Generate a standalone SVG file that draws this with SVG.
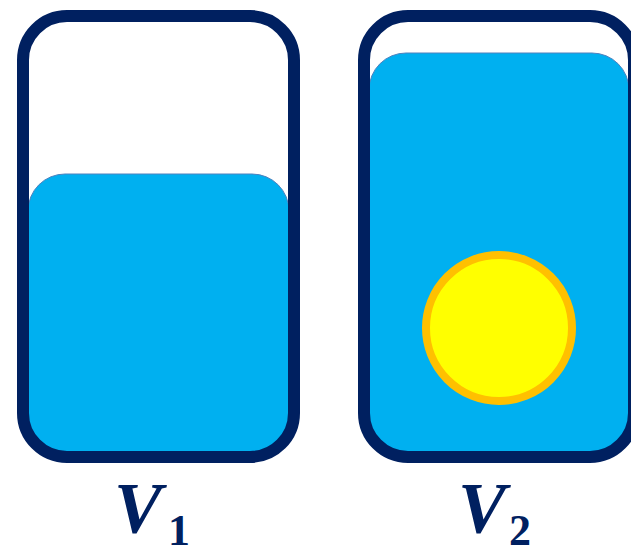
<svg xmlns="http://www.w3.org/2000/svg" width="631" height="549" viewBox="0 0 631 549">
  <style>
    .box { fill: none; stroke: #002060; stroke-width: 12; }
    .water { fill: #00B0F0; stroke: #4F81BD; stroke-width: 1; }
    .ball { fill: #FFFF00; stroke: #FFC000; stroke-width: 8; }
    .lbl { font-family: "Liberation Serif", "Times New Roman", serif; font-weight: bold; fill: #002060; }
    .v { font-style: italic; font-size: 72px; }
    .sub { font-size: 44px; }
  </style>
  <defs>
    <clipPath id="clip1"><rect x="23" y="16" width="271" height="441" rx="44" ry="44"/></clipPath>
    <clipPath id="clip2"><rect x="364" y="16" width="270" height="441" rx="44" ry="44"/></clipPath>
  </defs>
  <rect width="631" height="549" fill="#FFFFFF"/>
  <g id="container1">
    <path class="water" clip-path="url(#clip1)" d="M 28,211 A 37,37 0 0 1 65,174 H 252 A 37,37 0 0 1 289,211 V 460 H 28 Z"/>
    <rect class="box" x="23" y="16" width="271" height="441" rx="44" ry="44"/>
  </g>
  <g id="container2">
    <path class="water" clip-path="url(#clip2)" d="M 369,90 A 37,37 0 0 1 406,53 H 592 A 37,37 0 0 1 629,90 V 460 H 369 Z"/>
    <circle id="ball" class="ball" cx="499" cy="328" r="73"/>
    <rect class="box" x="364" y="16" width="270" height="441" rx="44" ry="44"/>
  </g>
  <g id="label1" class="lbl">
    <text class="v" x="114" y="532">V</text>
    <text class="sub" x="168" y="545">1</text>
  </g>
  <g id="label2" class="lbl">
    <text class="v" x="458" y="532">V</text>
    <text class="sub" x="509" y="545">2</text>
  </g>
</svg>
